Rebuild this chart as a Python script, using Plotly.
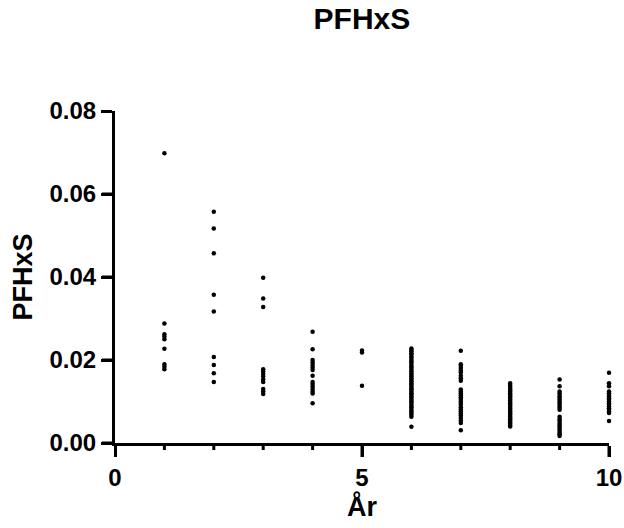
import plotly.graph_objects as go

years = [1, 2, 3, 4, 5, 6, 7, 8, 9, 10]

pfhxs_y1 = [0.0698, 0.0288, 0.0262, 0.0256, 0.0250, 0.0227, 0.0190, 0.0184, 0.0178]
pfhxs_y2 = [0.0557, 0.0517, 0.0457, 0.0357, 0.0317, 0.0207, 0.0188, 0.0168, 0.0147]
pfhxs_y3 = [0.0398, 0.0348, 0.0328, 0.0178, 0.0172, 0.0166, 0.0160, 0.0153, 0.0147,
            0.0130, 0.0124, 0.0118]
pfhxs_y4 = [0.0268, 0.0226, 0.0200, 0.0194, 0.0188, 0.0182, 0.0176, 0.0162, 0.0147,
            0.0142, 0.0136, 0.0130, 0.0124, 0.0119, 0.0096]
pfhxs_y5 = [0.0223, 0.0218, 0.0138]
pfhxs_y6 = [0.0228, 0.0224, 0.0221, 0.0216, 0.0213, 0.0208, 0.0205, 0.0200, 0.0196,
            0.0193, 0.0188, 0.0184, 0.0181, 0.0176, 0.0173, 0.0168, 0.0164, 0.0161,
            0.0156, 0.0152, 0.0149, 0.0144, 0.0141, 0.0136, 0.0132, 0.0129, 0.0124,
            0.0120, 0.0117, 0.0112, 0.0109, 0.0104, 0.0100, 0.0097, 0.0092, 0.0088,
            0.0085, 0.0080, 0.0076, 0.0072, 0.0068, 0.0063, 0.0039]
pfhxs_y7 = [0.0222, 0.0190, 0.0186, 0.0181, 0.0175, 0.0170, 0.0162, 0.0156, 0.0150,
            0.0129, 0.0124, 0.0120, 0.0115, 0.0110, 0.0106, 0.0101, 0.0097, 0.0092,
            0.0086, 0.0081, 0.0076, 0.0071, 0.0066, 0.0060, 0.0054, 0.0048, 0.0031]
pfhxs_y8 = [0.0144, 0.0139, 0.0135, 0.0131, 0.0128, 0.0124, 0.0120, 0.0117, 0.0113,
            0.0110, 0.0106, 0.0103, 0.0099, 0.0096, 0.0092, 0.0089, 0.0085, 0.0082,
            0.0078, 0.0075, 0.0071, 0.0068, 0.0064, 0.0061, 0.0057, 0.0054, 0.0050,
            0.0047, 0.0043, 0.0040]
pfhxs_y9 = [0.0153, 0.0137, 0.0124, 0.0119, 0.0114, 0.0110, 0.0105, 0.0100, 0.0095,
            0.0090, 0.0085, 0.0080, 0.0063, 0.0058, 0.0054, 0.0049, 0.0044, 0.0040,
            0.0035, 0.0030, 0.0025, 0.0021, 0.0017]
pfhxs_y10 = [0.0169, 0.0144, 0.0137, 0.0124, 0.0120, 0.0116, 0.0112, 0.0108, 0.0104,
             0.0100, 0.0096, 0.0092, 0.0088, 0.0084, 0.0080, 0.0076, 0.0072, 0.0053]

series = [pfhxs_y1, pfhxs_y2, pfhxs_y3, pfhxs_y4, pfhxs_y5,
          pfhxs_y6, pfhxs_y7, pfhxs_y8, pfhxs_y9, pfhxs_y10]

x_major_ticks = [0, 5, 10]
x_minor_ticks = [1, 2, 3, 4, 6, 7, 8, 9]
y_ticks = [0, 0.02, 0.04, 0.06, 0.08]

xs, ys = [], []
for yr, vals in zip(years, series):
    xs.extend([yr] * len(vals))
    ys.extend(vals)

FONT = "Liberation Sans, Arial, sans-serif"
PLOT_W = 624 - 115 - 15
PLOT_H = 528 - 111 - 85

fig = go.Figure(go.Scatter(
    x=xs, y=ys, mode="markers",
    marker=dict(color="black", size=4.5, line=dict(width=0)),
    cliponaxis=False, showlegend=False,
))

# tick marks drawn as shapes positioned from the tick arrays
shapes = []
for v in x_major_ticks:
    shapes.append(dict(type="line", xref="x", yref="paper", x0=v, x1=v,
                       y0=0, y1=-14 / PLOT_H, line=dict(color="black", width=3)))
for v in x_minor_ticks:
    shapes.append(dict(type="line", xref="x", yref="paper", x0=v, x1=v,
                       y0=0, y1=-7 / PLOT_H, line=dict(color="black", width=3)))
for v in y_ticks:
    shapes.append(dict(type="line", xref="paper", yref="y", x0=0, x1=-13 / PLOT_W,
                       y0=v, y1=v, line=dict(color="black", width=3)))

fig.update_layout(
    template="none",
    width=624, height=528,
    margin=dict(l=115, r=15, t=111, b=85, autoexpand=False),
    paper_bgcolor="white", plot_bgcolor="white",
    title=dict(text="<b>PFHxS</b>", x=0.58, xanchor="center", y=0.985, yanchor="top",
               font=dict(family=FONT, size=30, color="black")),
    shapes=shapes,
)

fig.update_xaxes(
    range=[0, 10], tickmode="array", tickvals=x_major_ticks,
    ticktext=[f"<b>{v}</b>" for v in x_major_ticks],
    ticks="outside", ticklen=11, tickwidth=3, tickcolor="black",
    showline=True, linewidth=3, linecolor="black", showgrid=False, zeroline=False,
    tickfont=dict(family=FONT, size=24, color="black"),
    title=dict(text="<b>År</b>", standoff=0,
               font=dict(family=FONT, size=27, color="black")),
)
fig.update_yaxes(
    range=[0, 0.08], tickmode="array", tickvals=y_ticks,
    ticktext=[f"<b>{v:.2f}</b>" for v in y_ticks],
    ticks="outside", ticklen=11, tickwidth=3, tickcolor="black",
    showline=True, linewidth=3, linecolor="black", showgrid=False, zeroline=False,
    tickfont=dict(family=FONT, size=24, color="black"),
    title=dict(text="<b>PFHxS</b>", standoff=10,
               font=dict(family=FONT, size=27, color="black")),
)

fig.write_html("out.html")
